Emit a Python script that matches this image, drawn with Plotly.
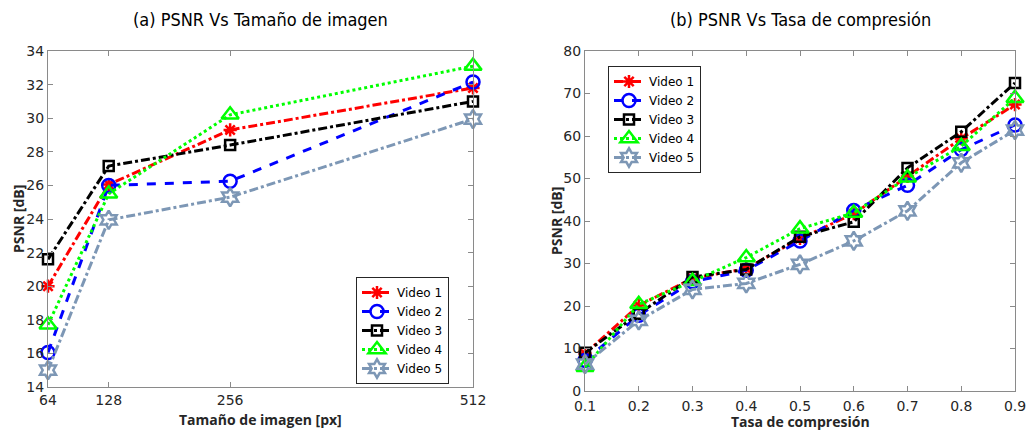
import plotly.graph_objects as go

# Image size experiment
sizes = [64, 128, 256, 512]
size_psnr = {
    "Video 1": [20.0, 26.05, 29.3, 31.8],
    "Video 2": [16.05, 26.0, 26.25, 32.15],
    "Video 3": [21.6, 27.15, 28.4, 31.0],
    "Video 4": [17.7, 25.5, 30.2, 33.1],
    "Video 5": [15.0, 23.95, 25.3, 29.95],
}

# Compression rate experiment
rates = [0.1, 0.2, 0.3, 0.4, 0.5, 0.6, 0.7, 0.8, 0.9]
rate_psnr = {
    "Video 1": [8.8, 20.1, 26.5, 28.8, 35.9, 41.7, 50.5, 59.4, 67.4],
    "Video 2": [7.2, 17.8, 25.7, 28.4, 35.3, 42.5, 48.4, 56.8, 62.6],
    "Video 3": [9.0, 18.2, 26.8, 28.6, 36.3, 39.8, 52.5, 61.0, 72.5],
    "Video 4": [5.6, 20.4, 25.8, 31.4, 38.2, 41.9, 50.2, 57.6, 68.9],
    "Video 5": [6.3, 16.6, 23.9, 25.3, 29.8, 35.3, 42.4, 53.7, 61.4],
}

styles = {
    "Video 1": dict(color="#ff0000", dash="dashdot", symbol="asterisk-open", size=11),
    "Video 2": dict(color="#0000ff", dash="dash", symbol="circle-open", size=13),
    "Video 3": dict(color="#000000", dash="dashdot", symbol="square-open", size=10),
    "Video 4": dict(color="#00ff00", dash="dot", symbol="triangle-up-open", size=15),
    "Video 5": dict(color="#7d97b5", dash="dashdot", symbol="hexagram-open", size=14),
}

W, H = 1032, 432
FONT = "DejaVu Sans"
TITLE_FAMILY = "DejaVu Sans Condensed, DejaVu Sans"
LABEL_FAMILY = "Open Sans"
AXIS_COLOR = "#8a8a8a"
TICK_FONT = dict(family=FONT, size=14, color="#262626")

fig = go.Figure()

for name, ys in size_psnr.items():
    s = styles[name]
    fig.add_trace(go.Scatter(
        x=sizes, y=ys, name=name, mode="lines+markers",
        line=dict(color=s["color"], dash=s["dash"], width=3),
        marker=dict(symbol=s["symbol"], size=s["size"], color=s["color"],
                    line=dict(color=s["color"], width=2.5)),
        xaxis="x", yaxis="y", legend="legend", cliponaxis=False,
    ))

for name, ys in rate_psnr.items():
    s = styles[name]
    fig.add_trace(go.Scatter(
        x=rates, y=ys, name=name, mode="lines+markers",
        line=dict(color=s["color"], dash=s["dash"], width=3),
        marker=dict(symbol=s["symbol"], size=s["size"], color=s["color"],
                    line=dict(color=s["color"], width=2.5)),
        xaxis="x2", yaxis="y2", legend="legend2", cliponaxis=False,
    ))


def px_x(p):
    return p / W


def px_y(p):
    return 1 - p / H


axis_common = dict(
    showline=True, linecolor=AXIS_COLOR, linewidth=1, mirror="allticks",
    ticks="inside", ticklen=5, tickcolor=AXIS_COLOR, tickwidth=1,
    showgrid=False, zeroline=False, tickfont=TICK_FONT, automargin=False,
)

legend_common = dict(
    xanchor="left", yanchor="top",
    bgcolor="white", bordercolor="#262626", borderwidth=1,
    font=dict(family=FONT, size=12, color="#000000"),
    itemwidth=30, tracegroupgap=0,
)

fig.update_layout(
    width=W, height=H,
    margin=dict(l=0, r=0, t=0, b=0),
    paper_bgcolor="white", plot_bgcolor="white",
    font=dict(family=FONT, color="#262626"),
    xaxis=dict(domain=[px_x(48), px_x(473)], range=[64, 512],
               tickvals=sizes, anchor="y", **axis_common),
    yaxis=dict(domain=[px_y(387), px_y(51)], range=[14, 34],
               dtick=2, anchor="x", **axis_common),
    xaxis2=dict(domain=[px_x(585), px_x(1015)], range=[0.1, 0.9],
                dtick=0.1, tickformat=".1f", anchor="y2",
                ticklabelstandoff=2, **axis_common),
    yaxis2=dict(domain=[px_y(391), px_y(51)], range=[0, 80],
                dtick=10, anchor="x2", **axis_common),
    legend=dict(x=px_x(356), y=px_y(277), **legend_common),
    legend2=dict(x=px_x(608), y=px_y(66), **legend_common),
    showlegend=True,
)

title_font = dict(family=TITLE_FAMILY, size=18, color="#000000")
label_font = dict(family=LABEL_FAMILY, size=14, color="#262626", weight="bold")

annotations = [
    dict(text="(a) PSNR Vs Tamaño de imagen", x=px_x(260), y=px_y(20),
         font=title_font),
    dict(text="(b) PSNR Vs Tasa de compresión", x=px_x(800), y=px_y(20),
         font=title_font),
    dict(text="<b>Tamaño de imagen [px]</b>", x=px_x(260), y=px_y(419),
         font=label_font),
    dict(text="<b>Tasa de compresión</b>", x=px_x(800), y=px_y(421),
         font=label_font),
    dict(text="<b>PSNR [dB]</b>", x=px_x(18), y=px_y(219), textangle=-90,
         font=label_font),
    dict(text="<b>PSNR [dB]</b>", x=px_x(556), y=px_y(221), textangle=-90,
         font=label_font),
]
for a in annotations:
    fig.add_annotation(xref="paper", yref="paper", showarrow=False,
                       xanchor="center", yanchor="middle", **a)

fig.write_html("out.html")
